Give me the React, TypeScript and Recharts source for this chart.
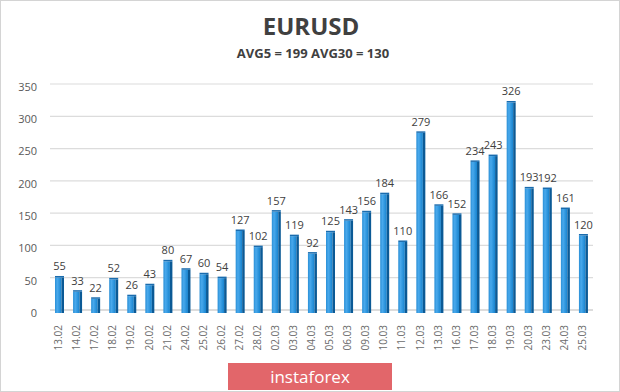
import React from 'react';
import { BarChart, Bar, XAxis, YAxis, CartesianGrid, LabelList } from 'recharts';

const dates = ['13.02','14.02','17.02','18.02','19.02','20.02','21.02','24.02','25.02','26.02','27.02','28.02','02.03','03.03','04.03','05.03','06.03','09.03','10.03','11.03','12.03','13.03','16.03','17.03','18.03','19.03','20.03','23.03','24.03','25.03'];
const values = [55,33,22,52,26,43,80,67,60,54,127,102,157,119,92,125,143,156,184,110,279,166,152,234,243,326,193,192,161,120];
const yTicks = [0,50,100,150,200,250,300,350];
const title = 'EURUSD';
const subtitle = 'AVG5 = 199 AVG30 = 130';
const logoText = 'instaforex';

const data = dates.map((d, i) => ({ date: d, value: values[i] }));

const FONT = '"Open Sans", "Noto Sans", sans-serif';

const Bar3D = (props: any) => {
  const { x, y, width, height } = props;
  if (!height || height <= 0) return null;
  const side = 2.5;
  return (
    <g>
      <rect x={x} y={y} width={width - side} height={height} fill="url(#barFront)" />
      <rect x={x + width - side} y={y} width={side} height={height} fill="#0b5a96" />
      <rect x={x} y={y - 1.5} width={width} height={1.5} fill="#1a6cae" />
    </g>
  );
};

const XTick = (props: any) => {
  const { x, y, payload } = props;
  const ty = y + 12;
  return (
    <text
      x={x}
      y={ty}
      dy="0.32em"
      transform={`rotate(-90 ${x} ${ty})`}
      textAnchor="end"
      fill="#6b6b6b"
      fontSize={10}
      fontFamily={FONT}
    >
      {payload.value}
    </text>
  );
};

const GridLine = (p: any) => (
  <line
    key={`g-${p.index}-${p.y1}`}
    x1={p.x1}
    y1={p.y1 - 3}
    x2={p.x2 + 1}
    y2={p.y2 - 3}
    stroke="#dcdcdc"
    strokeWidth={p.index === 0 ? 2 : 1.2}
  />
);

export default function App() {
  return (
    <div style={{ position: 'absolute', left: 0, top: 0, width: 620, height: 392, background: '#ffffff', fontFamily: FONT }}>
      <BarChart
        width={620}
        height={392}
        data={data}
        margin={{ top: 87, right: 28, left: 0, bottom: 0 }}
        barCategoryGap={9}
      >
        <defs>
          <linearGradient id="barFront" x1="0" y1="0" x2="1" y2="0">
            <stop offset="0%" stopColor="#2a8fd6" />
            <stop offset="35%" stopColor="#49a9ec" />
            <stop offset="100%" stopColor="#1683cf" />
          </linearGradient>
        </defs>
        <CartesianGrid vertical={false} horizontal={GridLine as any} />
        <YAxis
          domain={[0, 350]}
          ticks={yTicks}
          axisLine={false}
          tickLine={false}
          tickSize={0}
          tickMargin={13}
          width={50}
          tick={{ fill: '#595959', fontSize: 11, fontFamily: FONT }}
        />
        <XAxis
          dataKey="date"
          interval={0}
          axisLine={false}
          tickLine={false}
          tickSize={0}
          tickMargin={0}
          height={79}
          tick={<XTick />}
        />
        <Bar dataKey="value" barSize={9} shape={<Bar3D />} isAnimationActive={false}>
          <LabelList dataKey="value" position="top" offset={7} fill="#404040" fontSize={11} fontFamily={FONT} />
        </Bar>
      </BarChart>
      <svg width={620} height={70} style={{ position: 'absolute', left: 0, top: 0 }}>
        <text x={311} y={35} textAnchor="middle" fontSize={24} fontWeight={700} fill="#404040" fontFamily={FONT}>{title}</text>
        <text x={313} y={58} textAnchor="middle" fontSize={13} fontWeight={700} fill="#404040" fontFamily={FONT}>{subtitle}</text>
      </svg>
      <div style={{ position: 'absolute', left: 228, top: 363, width: 164, height: 27, background: '#e2666a', color: '#ffffff', fontSize: 17, lineHeight: '27px', textAlign: 'center', fontFamily: FONT }}>
        {logoText}
      </div>
      <div style={{ position: 'absolute', left: 0, top: 0, width: 620, height: 392, boxSizing: 'border-box', border: '1px solid #d4d4d4', pointerEvents: 'none' }} />
    </div>
  );
}
